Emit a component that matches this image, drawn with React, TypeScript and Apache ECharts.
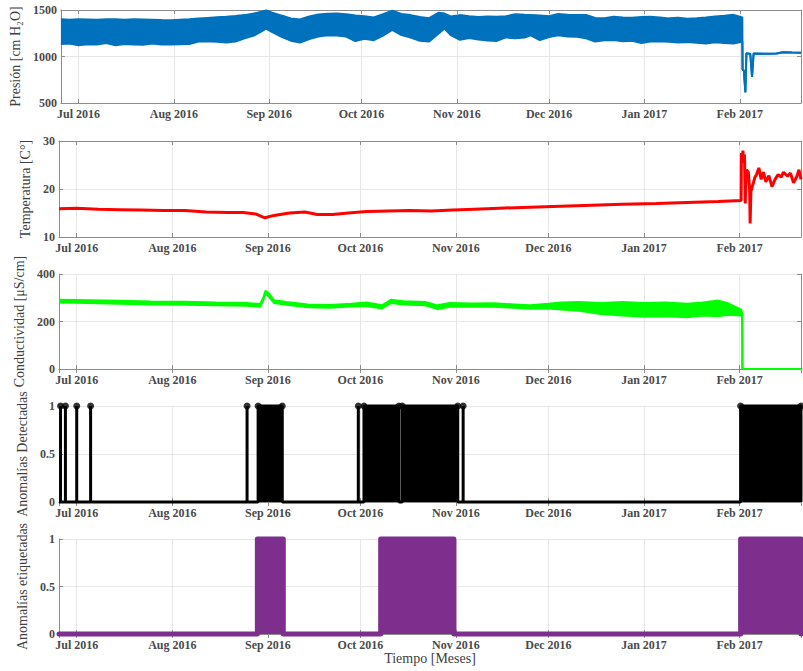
import React, { useEffect, useRef } from "react";
import * as echarts from "echarts";

const X_MIN = "2016-06-25T06:00";
const X_MAX = "2017-02-20T22:00";
const MONTHS = ["Jan", "Feb", "Mar", "Apr", "May", "Jun", "Jul", "Aug", "Sep", "Oct", "Nov", "Dec"];

// Pressure envelope (upper / lower edge of the daily oscillation band), cm H2O
const pressureDates = [
  "2016-06-25T06:00", "2016-06-28T00:00", "2016-07-01T00:00", "2016-07-04T00:00", "2016-07-07T00:00",
  "2016-07-10T00:00", "2016-07-13T00:00", "2016-07-16T00:00", "2016-07-19T00:00", "2016-07-22T00:00",
  "2016-07-25T00:00", "2016-07-28T00:00", "2016-07-31T00:00", "2016-08-03T00:00", "2016-08-06T00:00",
  "2016-08-09T00:00", "2016-08-12T00:00", "2016-08-15T00:00", "2016-08-18T00:00", "2016-08-21T00:00",
  "2016-08-24T00:00", "2016-08-27T00:00", "2016-08-29T12:00", "2016-08-31T00:00", "2016-09-02T00:00",
  "2016-09-05T00:00", "2016-09-08T00:00", "2016-09-11T00:00", "2016-09-14T00:00", "2016-09-17T00:00",
  "2016-09-20T00:00", "2016-09-23T00:00", "2016-09-26T00:00", "2016-09-29T00:00", "2016-10-02T00:00",
  "2016-10-05T00:00", "2016-10-08T00:00", "2016-10-11T00:00", "2016-10-14T00:00", "2016-10-17T00:00",
  "2016-10-20T00:00", "2016-10-23T00:00", "2016-10-26T00:00", "2016-10-28T00:00", "2016-10-30T00:00",
  "2016-11-02T00:00", "2016-11-05T00:00", "2016-11-08T00:00", "2016-11-11T00:00", "2016-11-14T00:00",
  "2016-11-17T00:00", "2016-11-20T00:00", "2016-11-23T00:00", "2016-11-25T00:00", "2016-11-28T00:00",
  "2016-12-01T00:00", "2016-12-04T00:00", "2016-12-07T00:00", "2016-12-10T00:00", "2016-12-13T00:00",
  "2016-12-16T00:00", "2016-12-19T00:00", "2016-12-22T00:00", "2016-12-25T00:00", "2016-12-28T00:00",
  "2016-12-31T00:00", "2017-01-03T00:00", "2017-01-06T00:00", "2017-01-09T00:00", "2017-01-12T00:00",
  "2017-01-15T00:00", "2017-01-18T00:00", "2017-01-21T00:00", "2017-01-24T00:00", "2017-01-27T00:00",
  "2017-01-30T00:00", "2017-02-01T20:00", "2017-02-01T22:00", "2017-02-02T08:00", "2017-02-02T20:00",
  "2017-02-03T04:00", "2017-02-04T10:00", "2017-02-05T00:00", "2017-02-05T12:00", "2017-02-09T00:00",
  "2017-02-13T00:00", "2017-02-15T00:00", "2017-02-18T00:00", "2017-02-20T22:00",
];
const pressureHigh = [
  1400, 1395, 1400, 1398, 1395, 1400, 1400, 1396, 1400, 1398,
  1395, 1392, 1390, 1395, 1400, 1408, 1415, 1422, 1428, 1436,
  1445, 1462, 1482, 1495, 1472, 1440, 1410, 1398, 1430, 1452,
  1460, 1462, 1455, 1440, 1432, 1420, 1455, 1492, 1458, 1445,
  1425, 1412, 1470, 1462, 1430, 1445, 1432, 1425, 1430, 1428,
  1432, 1455, 1448, 1445, 1440, 1432, 1458, 1450, 1445, 1446,
  1415, 1412, 1428, 1420, 1418, 1425, 1428, 1420, 1410, 1418,
  1405, 1412, 1420, 1430, 1438, 1448, 1420, 860, 850, 615,
  1035, 1028, 780, 1032, 1030, 1033, 1045, 1042, 1040,
];
const pressureLow = [
  1135, 1140, 1120, 1132, 1128, 1145, 1122, 1135, 1130, 1126,
  1140, 1130, 1128, 1132, 1135, 1160, 1165, 1158, 1150, 1160,
  1195, 1225, 1270, 1300, 1262, 1212, 1170, 1150, 1188, 1215,
  1228, 1225, 1215, 1165, 1190, 1175, 1225, 1285, 1230, 1205,
  1170, 1162, 1245, 1300, 1230, 1180, 1198, 1182, 1172, 1168,
  1205, 1195, 1205, 1228, 1176, 1210, 1228, 1215, 1212, 1196,
  1162, 1175, 1178, 1165, 1170, 1145, 1160, 1165, 1158, 1150,
  1155, 1148, 1140, 1152, 1146, 1140, 1160, 860, 850, 615,
  1035, 1028, 780, 1032, 1030, 1033, 1045, 1042, 1040,
];

// Temperature, °C
const temperatureDates = [
  "2016-06-25T06:00", "2016-07-01T00:00", "2016-07-08T00:00", "2016-07-15T00:00", "2016-07-22T00:00",
  "2016-07-29T00:00", "2016-08-05T00:00", "2016-08-12T00:00", "2016-08-19T00:00", "2016-08-24T00:00",
  "2016-08-28T00:00", "2016-08-31T00:00", "2016-09-03T00:00", "2016-09-08T00:00", "2016-09-13T00:00",
  "2016-09-17T00:00", "2016-09-22T00:00", "2016-09-27T00:00", "2016-10-03T00:00", "2016-10-10T00:00",
  "2016-10-17T00:00", "2016-10-24T00:00", "2016-10-31T00:00", "2016-11-07T00:00", "2016-11-15T00:00",
  "2016-11-25T00:00", "2016-12-05T00:00", "2016-12-15T00:00", "2016-12-25T00:00", "2017-01-05T00:00",
  "2017-01-15T00:00", "2017-01-25T00:00", "2017-02-01T12:00", "2017-02-01T14:00", "2017-02-01T20:00",
  "2017-02-02T02:00", "2017-02-02T08:00", "2017-02-02T14:00", "2017-02-02T20:00", "2017-02-03T04:00",
  "2017-02-03T20:00", "2017-02-04T06:00", "2017-02-04T10:00", "2017-02-04T16:00", "2017-02-05T06:00",
  "2017-02-06T00:00", "2017-02-06T12:00", "2017-02-07T06:00", "2017-02-08T00:00", "2017-02-08T18:00",
  "2017-02-09T12:00", "2017-02-10T12:00", "2017-02-11T12:00", "2017-02-12T12:00", "2017-02-13T12:00",
  "2017-02-14T12:00", "2017-02-15T06:00", "2017-02-16T12:00", "2017-02-17T12:00", "2017-02-18T12:00",
  "2017-02-19T12:00", "2017-02-20T06:00", "2017-02-20T22:00",
];
const temperatureValues = [
  15.9, 16.0, 15.8, 15.7, 15.6, 15.5, 15.5, 15.2, 15.1, 15.1,
  14.8, 14.0, 14.5, 15.0, 15.2, 14.7, 14.7, 15.0, 15.3, 15.4,
  15.5, 15.4, 15.6, 15.8, 16.0, 16.2, 16.4, 16.6, 16.8, 17.0,
  17.2, 17.4, 17.6, 27.5, 26.0, 28.0, 25.5, 27.2, 17.0, 24.0,
  23.5, 20.0, 12.8, 19.5, 20.8, 22.5, 23.0, 24.4, 22.0, 23.5,
  21.5, 22.8, 20.5, 22.0, 23.0, 22.5, 23.5, 22.7, 23.3, 21.3,
  22.5, 24.0, 22.0,
];

// Conductivity envelope, µS/cm
const conductivityDates = [
  "2016-06-25T06:00", "2016-07-05T00:00", "2016-07-15T00:00", "2016-07-25T00:00", "2016-08-05T00:00",
  "2016-08-15T00:00", "2016-08-25T00:00", "2016-08-29T12:00", "2016-08-30T12:00", "2016-08-31T06:00",
  "2016-09-01T06:00", "2016-09-03T00:00", "2016-09-07T00:00", "2016-09-14T00:00", "2016-09-21T00:00",
  "2016-09-28T00:00", "2016-10-03T00:00", "2016-10-08T00:00", "2016-10-11T00:00", "2016-10-15T00:00",
  "2016-10-22T00:00", "2016-10-26T00:00", "2016-10-30T00:00", "2016-11-06T00:00", "2016-11-13T00:00",
  "2016-11-20T00:00", "2016-11-25T00:00", "2016-12-01T00:00", "2016-12-05T00:00", "2016-12-11T00:00",
  "2016-12-18T00:00", "2016-12-25T00:00", "2017-01-01T00:00", "2017-01-08T00:00", "2017-01-15T00:00",
  "2017-01-20T00:00", "2017-01-25T00:00", "2017-01-28T00:00", "2017-02-01T12:00", "2017-02-01T20:00",
  "2017-02-01T22:00", "2017-02-20T22:00",
];
const conductivityHigh = [
  292, 290, 287, 284, 283, 280, 278, 274, 300, 330,
  318, 290, 282, 272, 270, 275, 280, 268, 292, 285,
  282, 268, 278, 276, 277, 272, 268, 275, 280, 282,
  278, 282, 278, 280, 275, 280, 288, 278, 250, 235,
  0, 0,
];
const conductivityLow = [
  280, 278, 275, 272, 271, 268, 266, 262, 290, 318,
  305, 278, 270, 260, 258, 263, 265, 255, 278, 272,
  268, 252, 262, 262, 262, 258, 254, 255, 250, 245,
  232, 225, 220, 222, 218, 225, 222, 228, 225, 235,
  0, 0,
];

// Detected anomalies (1 = anomaly)
const detectedSpikes = [
  "2016-06-25T18:00", "2016-06-27T08:00", "2016-07-01T00:00",
  "2016-07-05T12:00", "2016-08-25T06:00", "2016-09-30T08:00", "2016-11-03T08:00",
];
const detectedBlocks = [
  ["2016-08-28T20:00", "2016-09-05T16:00"],
  ["2016-10-02T04:00", "2016-10-13T12:00"],
  ["2016-10-14T14:00", "2016-11-01T14:00"],
  ["2017-02-01T08:00", X_MAX],
];

// Labelled anomalies
const labeledBlocks = [
  ["2016-08-28T14:00", "2016-09-06T00:00"],
  ["2016-10-07T14:00", "2016-10-31T08:00"],
  ["2017-02-01T08:00", X_MAX],
];

const yNames = [
  "Presión [cm H₂O]",
  "Temperatura [C°]",
  "Conductividad [μS/cm]",
  "Anomalías Detectadas",
  "Anomalías etiquetadas",
];
const yMins = [500, 10, 0, 0, 0];
const yMaxs = [1500, 30, 400, 1, 1];
const yIntervals = [500, 10, 200, 0.5, 0.5];

const T = (s: string) => new Date(s).getTime();

function stepData(blocks: string[][], spikes: string[]) {
  const ev: { a: number; b: number | null }[] = [
    ...spikes.map((s) => ({ a: T(s), b: null as number | null })),
    ...blocks.map(([f, t]) => ({ a: T(f), b: T(t) as number | null })),
  ].sort((p, q) => p.a - q.a);
  const out: number[][] = [[T(X_MIN), 0]];
  ev.forEach((e) => {
    if (e.b === null) out.push([e.a, 0], [e.a, 1], [e.a, 0]);
    else out.push([e.a, 0], [e.a, 1], [e.b, 1], [e.b, 0]);
  });
  out.push([T(X_MAX), 0]);
  return out;
}

const FONT = "'Liberation Serif', 'DejaVu Serif', serif";

export default function App() {
  const ref = useRef<HTMLDivElement>(null);
  useEffect(() => {
    if (!ref.current) return;
    const chart = echarts.init(ref.current, undefined, { renderer: "svg" });
    const tops = [10, 141, 274, 406, 539];
    const heights = [93, 96, 95, 96, 95];
    const nameGaps = [37, 18, 25, 22, 22];
    const axisColor = "#8c8c8c";
    const gridColor = "#e6e6e6";
    const xmin = T(X_MIN);
    const xmax = T(X_MAX);
    const monthFmt = (v: number) => {
      const d = new Date(v);
      if (d.getDate() !== 1 || d.getHours() !== 0) return "";
      return MONTHS[d.getMonth()] + " " + d.getFullYear();
    };

    const grids: any[] = [];
    const xAxes: any[] = [];
    const yAxes: any[] = [];
    for (let i = 0; i < 5; i++) {
      grids.push({ left: 59, width: 742, top: tops[i], height: heights[i] });
      xAxes.push({
        type: "time",
        gridIndex: i,
        min: xmin,
        max: xmax,
        splitNumber: 8,
        minInterval: 28 * 86400000,
        maxInterval: 31 * 86400000,
        axisLine: { show: true, lineStyle: { color: axisColor, width: 1 } },
        axisTick: { show: true, inside: true, length: 4, lineStyle: { color: axisColor } },
        axisLabel: {
          formatter: monthFmt,
          fontFamily: FONT,
          fontSize: 12,
          fontWeight: "bold",
          color: "#4a4a4a",
          margin: 5,
          hideOverlap: false,
        },
        splitLine: { show: true, lineStyle: { color: gridColor, width: 1 } },
        ...(i === 4
          ? {
              name: "Tiempo [Meses]",
              nameLocation: "middle",
              nameGap: 14,
              nameTextStyle: { fontFamily: FONT, fontSize: 14, color: "#404040", verticalAlign: "top" },
            }
          : {}),
      });
      xAxes.push({
        type: "time",
        gridIndex: i,
        position: "top",
        min: xmin,
        max: xmax,
        splitNumber: 8,
        minInterval: 28 * 86400000,
        maxInterval: 31 * 86400000,
        axisLine: { show: true, lineStyle: { color: axisColor, width: 1 } },
        axisTick: { show: true, inside: true, length: 4, lineStyle: { color: axisColor } },
        axisLabel: { show: false },
        splitLine: { show: false },
      });
      yAxes.push({
        type: "value",
        gridIndex: i,
        min: yMins[i],
        max: yMaxs[i],
        interval: yIntervals[i],
        name: yNames[i],
        nameLocation: "middle",
        nameGap: nameGaps[i],
        nameTextStyle: { fontFamily: FONT, fontSize: 14, color: "#404040" },
        axisLine: { show: true, lineStyle: { color: axisColor, width: 1 } },
        axisTick: { show: true, inside: true, length: 4, lineStyle: { color: axisColor } },
        axisLabel: {
          formatter: (v: number) => String(v),
          fontFamily: FONT,
          fontSize: 12,
          fontWeight: "bold",
          color: "#4a4a4a",
          margin: 4,
        },
        splitLine: { show: true, lineStyle: { color: gridColor, width: 1 } },
      });
      yAxes.push({
        type: "value",
        gridIndex: i,
        position: "right",
        min: yMins[i],
        max: yMaxs[i],
        interval: yIntervals[i],
        axisLine: { show: true, lineStyle: { color: axisColor, width: 1 } },
        axisTick: { show: true, inside: true, length: 4, lineStyle: { color: axisColor } },
        axisLabel: { show: false },
        splitLine: { show: false },
      });
    }

    const blue = "#0072BD";
    const green = "#00FF00";
    const purple = "#7E2F8E";

    const pLow = pressureDates.map((d, k) => [T(d), pressureLow[k]]);
    const pDiff = pressureDates.map((d, k) => [T(d), pressureHigh[k] - pressureLow[k]]);
    const cLow = conductivityDates.map((d, k) => [T(d), conductivityLow[k]]);
    const cDiff = conductivityDates.map((d, k) => [T(d), conductivityHigh[k] - conductivityLow[k]]);
    const tData = temperatureDates.map((d, k) => [T(d), temperatureValues[k]]);
    const detData = stepData(detectedBlocks, detectedSpikes);
    const labData = stepData(labeledBlocks, []);
    const detTops: number[][] = [
      ...detectedSpikes.map((s) => [T(s), 1]),
      ...detectedBlocks.flatMap(([f, t]) => [[T(f), 1], [T(t), 1]]),
    ];

    const base = { type: "line", symbol: "none", animation: false, silent: true };

    chart.setOption({
      animation: false,
      grid: grids,
      xAxis: xAxes,
      yAxis: yAxes,
      series: [
        { ...base, xAxisIndex: 0, yAxisIndex: 0, stack: "p", data: pLow, lineStyle: { color: blue, width: 2 } },
        {
          ...base, xAxisIndex: 0, yAxisIndex: 0, stack: "p", data: pDiff,
          lineStyle: { color: blue, width: 2 }, areaStyle: { color: blue, opacity: 1 },
        },
        { ...base, xAxisIndex: 2, yAxisIndex: 2, data: tData, lineStyle: { color: "#FF0000", width: 3 } },
        { ...base, xAxisIndex: 4, yAxisIndex: 4, stack: "c", data: cLow, lineStyle: { color: green, width: 2 } },
        {
          ...base, xAxisIndex: 4, yAxisIndex: 4, stack: "c", data: cDiff,
          lineStyle: { color: green, width: 2 }, areaStyle: { color: green, opacity: 1 },
        },
        {
          ...base, xAxisIndex: 6, yAxisIndex: 6, data: detData, clip: false,
          lineStyle: { color: "#000", width: 3 }, areaStyle: { color: "#000", opacity: 1 },
        },
        {
          type: "scatter", xAxisIndex: 6, yAxisIndex: 6, data: detTops, symbol: "circle", symbolSize: 7,
          itemStyle: { color: "#000" }, clip: false, silent: true,
        },
        {
          ...base, xAxisIndex: 8, yAxisIndex: 8, data: labData, clip: false,
          lineStyle: { color: purple, width: 5, cap: "round", join: "round" },
          areaStyle: { color: purple, opacity: 1 },
        },
      ],
    });
    return () => chart.dispose();
  }, []);
  return <div ref={ref} style={{ position: "absolute", left: 0, top: 0, width: 803, height: 671 }} />;
}
